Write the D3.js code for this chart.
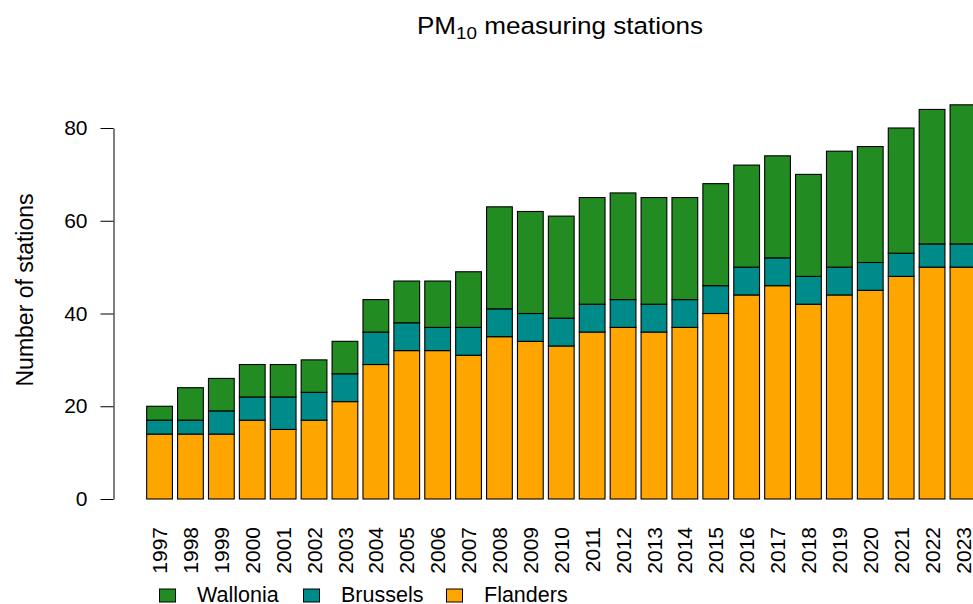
<!DOCTYPE html>
<html>
<head>
<meta charset="utf-8">
<script src="https://cdn.jsdelivr.net/npm/d3@7"></script>
<style>
  html, body { margin: 0; padding: 0; background: #fff; overflow: hidden; }
  svg { display: block; font-family: "Liberation Sans", Arial, sans-serif; }
</style>
</head>
<body>
<svg id="chart" width="973" height="604"></svg>
<script>
const years = ["1997","1998","1999","2000","2001","2002","2003","2004","2005","2006","2007","2008","2009","2010","2011","2012","2013","2014","2015","2016","2017","2018","2019","2020","2021","2022","2023"];
const flanders = [14,14,14,17,15,17,21,29,32,32,31,35,34,33,36,37,36,37,40,44,46,42,44,45,48,50,50];
const brussels = [3,3,5,5,7,6,6,7,6,5,6,6,6,6,6,6,6,6,6,6,6,6,6,6,5,5,5];
const wallonia = [3,7,7,7,7,7,7,7,9,10,12,22,22,22,23,23,23,22,22,22,22,22,25,25,27,29,30];
const seriesNames = ["Flanders","Brussels","Wallonia"];
const seriesColors = ["#FFA500","#008B8B","#228B22"];
const yTicks = [0,20,40,60,80];
const legendOrder = ["Wallonia","Brussels","Flanders"];

const svg = d3.select("#chart");

const rows = years.map((y,i) => ({year: y, Flanders: flanders[i], Brussels: brussels[i], Wallonia: wallonia[i]}));
const stacked = d3.stack().keys(seriesNames)(rows);

const x = d3.scaleBand().domain(years).range([144.1, 978.4]).paddingInner(1/6).paddingOuter(1/12);
const y = d3.scaleLinear().domain([0,80]).range([499,128]);
const color = d3.scaleOrdinal().domain(seriesNames).range(seriesColors);

// bars
svg.append("g").selectAll("g").data(stacked).join("g")
  .attr("fill", d => color(d.key))
  .selectAll("rect").data(d => d).join("rect")
  .attr("x", d => x(d.data.year))
  .attr("width", x.bandwidth())
  .attr("y", d => y(d[1]))
  .attr("height", d => y(d[0]) - y(d[1]))
  .attr("stroke", "#000")
  .attr("stroke-width", 1.1);

// y axis
const yAxis = d3.axisLeft(y).tickValues(yTicks).tickSize(13).tickSizeOuter(0).tickPadding(13);
const gy = svg.append("g").attr("transform", "translate(113.5,0)").call(yAxis);
gy.select(".domain").attr("stroke","#000").attr("stroke-width",1);
gy.selectAll(".tick line").attr("stroke","#000");
gy.selectAll(".tick text").attr("font-size", 21).attr("fill","#000").attr("font-family","Liberation Sans, Arial, sans-serif");

// x labels
svg.append("g").selectAll("text").data(years).join("text")
  .attr("transform", d => `translate(${x(d) + x.bandwidth()/2},527) rotate(-90)`)
  .attr("text-anchor", "end")
  .attr("dy", "0.36em")
  .attr("font-size", 21)
  .text(d => d);

// y label
svg.append("text")
  .attr("transform", "translate(24.5,290) rotate(-90)")
  .attr("text-anchor", "middle")
  .attr("dy", "0.36em")
  .attr("font-size", 23)
  .text("Number of stations");

// title
const title = svg.append("text")
  .attr("transform", "translate(560,34) scale(1.11,1)")
  .attr("text-anchor", "middle")
  .attr("font-size", 23.5);
title.append("tspan").text("PM");
title.append("tspan").attr("font-size", 17).attr("dy", 4.5).text("10");
title.append("tspan").attr("dy", -4.5).text(" measuring stations");

// legend
const legendX = [159.5, 303.5, 446.5];
const lg = svg.append("g").selectAll("g").data(legendOrder).join("g")
  .attr("transform", (d,i) => `translate(${legendX[i]},589)`);
lg.append("rect").attr("width", 16).attr("height", 13)
  .attr("fill", d => color(d)).attr("stroke", "#000").attr("stroke-width", 1);
lg.append("text").attr("x", 37.5).attr("y", 13.3).attr("font-size", 21.5).text(d => d);
</script>
</body>
</html>
